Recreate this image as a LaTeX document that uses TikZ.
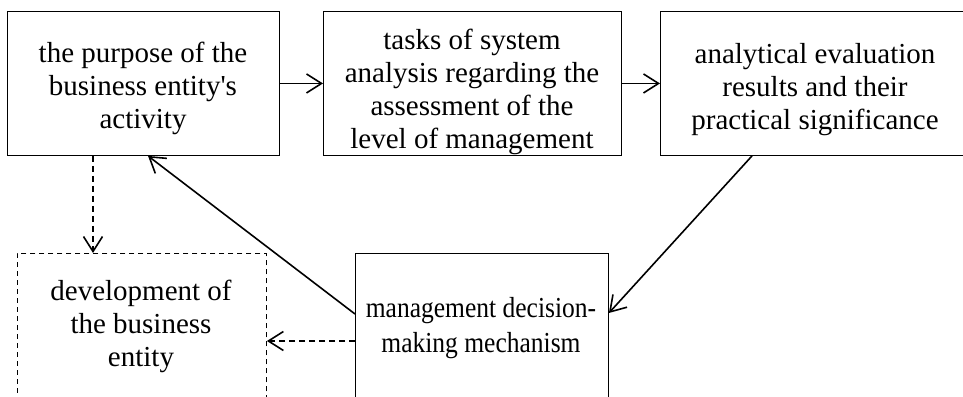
\documentclass[tikz,border=0pt]{standalone}
\usepackage{fontspec}
\setmainfont{Liberation Serif}[Ligatures=TeXOff]
\newfontfamily\condserif[FakeStretch=0.88,Ligatures=TeXOff]{Liberation Serif}
\usetikzlibrary{arrows.meta,calc}
\begin{document}
\begin{tikzpicture}[x=1pt,y=-1pt,
  box/.style={draw, line width=0.9pt, inner sep=0pt, anchor=north west},
  dbox/.style={box, dash pattern=on 5pt off 4pt},
  txt/.style={align=center, inner sep=0pt, font=\fontsize{29}{33}\selectfont},
  arr/.style={line width=1.6pt, -{Straight Barb[length=15pt,width=19pt,line width=1.6pt]}},
  darr/.style={arr, dash pattern=on 6pt off 4pt}]
\useasboundingbox (0,0) rectangle (963,396);
\node[box, minimum width=272pt, minimum height=144pt] (A) at (7,11) {};
\node[box, minimum width=298pt, minimum height=144pt] (B) at (323,11) {};
\node[box, minimum width=310pt, minimum height=144pt] (C) at (660,11) {};
\node[dbox, minimum width=249pt, minimum height=150pt] (D) at (17,253) {};
\node[box, minimum width=253pt, minimum height=150pt] (E) at (355,253) {};
\node[txt] (At) at (143,88) {the purpose of the\\business entity's\\activity};
\begin{scope}
  \clip (B.north west) rectangle (B.south east);
  \node[txt] (Bt) at (472,92) {tasks of system\\analysis regarding the\\assessment of the\\level of management};
\end{scope}
\node[txt] (Ct) at (815,90) {analytical evaluation\\results and their\\practical significance};
\node[txt] (Dt) at (141,326) {development of\\the business\\entity};
\node[txt, font=\fontsize{29}{35}\condserif] (Et) at (481,328) {management decision-\\making mechanism};
\coordinate (c1) at ($(C.south west)+(92,0)$);
\coordinate (e1) at ($(E.north east)+(0,60)$);
\coordinate (e2) at ($(E.north west)+(0,61)$);
\coordinate (a1) at ($(A.south west)+(141,0)$);
\coordinate (a2) at ($(A.south west)+(86,0)$);
\coordinate (d1) at ($(D.north west)+(76,0)$);
\coordinate (e3) at ($(E.north west)+(0,88)$);
\coordinate (d2) at ($(D.north east)+(0,88)$);
\draw[arr] (A.east) -- (B.west);
\draw[arr] (B.east) -- (C.west);
\draw[arr] (c1) -- (e1);
\draw[arr] (e2) -- (a1);
\draw[darr] (a2) -- (d1);
\draw[darr] (e3) -- (d2);
\end{tikzpicture}
\end{document}
